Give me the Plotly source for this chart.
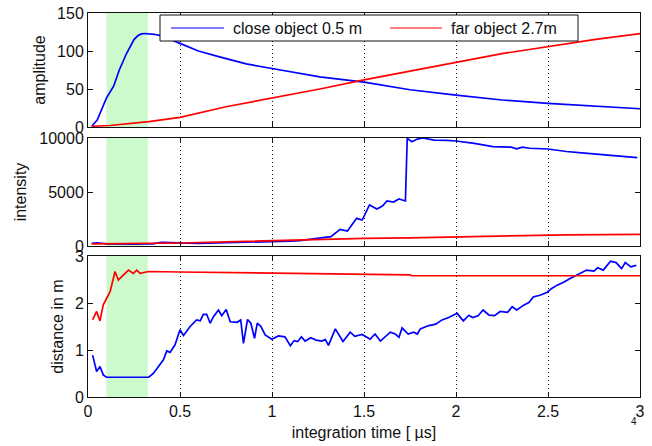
import plotly.graph_objects as go
from plotly.subplots import make_subplots

# ---------------- data ----------------
amp_t_close = [0.02, 0.05, 0.1, 0.14, 0.17, 0.21, 0.25, 0.27, 0.29, 0.31, 0.36, 0.4, 0.5, 0.6, 0.72, 0.86, 1.0, 1.12, 1.26, 1.5, 1.75, 2.0, 2.25, 2.5, 2.75, 3.0]
amp_close = [1, 9, 38, 54, 75, 97, 115, 120, 122.5, 123, 122, 120, 110, 100, 92, 83, 77, 72, 66, 59, 49, 42, 35.5, 31, 27.5, 24]

amp_t_far = [0.02, 0.12, 0.33, 0.5, 0.75, 1.0, 1.26, 1.5, 1.75, 2.0, 2.25, 2.5, 2.75, 3.0]
amp_far = [1, 2, 7, 12.7, 26.7, 37.7, 50, 62, 73, 85, 96.5, 106, 115, 123]

int_t_close = [0.02, 0.05, 0.1, 0.15, 0.2, 0.25, 0.3, 0.35, 0.4, 0.45, 0.5, 0.55, 0.6, 0.7, 0.8, 0.9, 0.95, 1.0, 1.05, 1.1, 1.15, 1.2, 1.26, 1.32, 1.37, 1.41, 1.46, 1.49, 1.53, 1.57, 1.6, 1.625, 1.66, 1.69, 1.725, 1.735, 1.76, 1.79, 1.82, 1.85, 1.88, 1.95, 2.0, 2.1, 2.2, 2.3, 2.33, 2.36, 2.4, 2.5, 2.6, 2.7, 2.8, 2.9, 2.985]
int_close = [250, 300, 200, 180, 170, 160, 190, 200, 330, 300, 280, 250, 250, 280, 320, 380, 350, 420, 380, 450, 500, 620, 710, 860, 1540, 1390, 2560, 2400, 3800, 3430, 3700, 4170, 4070, 4350, 4170, 9970, 9660, 9900, 10000, 9900, 9800, 9780, 9720, 9500, 9200, 9150, 9000, 9150, 9050, 8980, 8750, 8600, 8430, 8300, 8180]

int_t_far = [0.02, 0.3, 0.5, 0.8, 1.0, 1.26, 1.5, 1.75, 2.0, 2.1, 2.5, 2.6, 3.0]
int_far = [200, 210, 280, 400, 500, 620, 700, 760, 850, 880, 960, 1030, 1080]

dist_t_close = [0.025, 0.047, 0.065, 0.083, 0.1, 0.2, 0.33, 0.355, 0.383, 0.41, 0.428, 0.446, 0.473, 0.5, 0.519, 0.555, 0.59, 0.61, 0.627, 0.645, 0.664, 0.682, 0.709, 0.727, 0.751, 0.773, 0.81, 0.83, 0.845, 0.867, 0.885, 0.905, 0.92, 0.94, 0.963, 0.999, 1.035, 1.07, 1.1, 1.12, 1.14, 1.16, 1.18, 1.21, 1.24, 1.27, 1.29, 1.307, 1.344, 1.386, 1.425, 1.45, 1.489, 1.534, 1.56, 1.589, 1.643, 1.67, 1.69, 1.707, 1.74, 1.77, 1.79, 1.806, 1.852, 1.89, 1.924, 1.96, 2.006, 2.04, 2.07, 2.09, 2.12, 2.147, 2.18, 2.21, 2.24, 2.28, 2.305, 2.33, 2.37, 2.396, 2.42, 2.46, 2.496, 2.52, 2.55, 2.59, 2.62, 2.66, 2.68, 2.71, 2.75, 2.77, 2.8, 2.84, 2.87, 2.9, 2.92, 2.95, 2.98]
dist_close = [0.89, 0.54, 0.65, 0.47, 0.42, 0.42, 0.42, 0.5, 0.65, 0.79, 0.98, 0.95, 1.11, 1.43, 1.31, 1.5, 1.64, 1.62, 1.76, 1.76, 1.57, 1.71, 1.85, 1.73, 1.86, 1.6, 1.59, 1.64, 1.14, 1.65, 1.57, 1.25, 1.57, 1.5, 1.32, 1.23, 1.3, 1.28, 1.09, 1.2, 1.18, 1.28, 1.19, 1.26, 1.21, 1.19, 1.22, 1.1, 1.45, 1.18, 1.38, 1.29, 1.33, 1.23, 1.34, 1.19, 1.38, 1.34, 1.27, 1.47, 1.34, 1.38, 1.34, 1.45, 1.52, 1.55, 1.64, 1.69, 1.78, 1.62, 1.74, 1.69, 1.73, 1.85, 1.74, 1.73, 1.82, 1.8, 1.92, 1.85, 1.96, 2.01, 2.13, 2.17, 2.23, 2.31, 2.38, 2.45, 2.52, 2.6, 2.63, 2.7, 2.68, 2.75, 2.7, 2.89, 2.86, 2.73, 2.86, 2.77, 2.8]

dist_t_far = [0.025, 0.047, 0.065, 0.083, 0.12, 0.147, 0.165, 0.22, 0.246, 0.265, 0.283, 0.33, 0.5, 1.0, 1.4, 1.75, 1.76, 3.0]
dist_far = [1.64, 1.82, 1.62, 1.96, 2.24, 2.67, 2.49, 2.70, 2.63, 2.70, 2.63, 2.67, 2.66, 2.63, 2.61, 2.60, 2.58, 2.58]

series_names = ["close object 0.5 m", "far object 2.7m"]
x_ticks = [0, 0.5, 1, 1.5, 2, 2.5, 3]
x_tick_text = ["0", "0.5", "1", "1.5", "2", "2.5", "3"]
y_ticks = [[0, 50, 100, 150], [0, 5000, 10000], [0, 1, 2, 3]]
y_tick_text = [["0", "50", "100", "150"], ["0", "5000", "10000"], ["0", "1", "2", "3"]]
y_titles = ["amplitude", "intensity", "distance in m"]
highlight = [0.1, 0.325]

BLUE = "#0000ff"
RED = "#ff0000"
INK = "#111111"
FONT = "Liberation Sans, Arial, sans-serif"

# plot area in page pixels: x 88..640, y 13..397 (page body margin removed below)
W, H = 652, 446
ML, MR, MT, MB = 88, 12, 13, 49
PW, PH = W - ML - MR, H - MT - MB


def px(x):
    return (x - ML) / PW


def py(y):
    return (H - MB - y) / PH


fig = make_subplots(rows=3, cols=1, shared_xaxes=False, vertical_spacing=0.03)

LW = 1.7
fig.add_trace(go.Scatter(x=amp_t_close, y=amp_close, mode="lines", name=series_names[0],
                         line=dict(color=BLUE, width=LW)), row=1, col=1)
fig.add_trace(go.Scatter(x=amp_t_far, y=amp_far, mode="lines", name=series_names[1],
                         line=dict(color=RED, width=LW)), row=1, col=1)
fig.add_trace(go.Scatter(x=int_t_close, y=int_close, mode="lines", name=series_names[0],
                         line=dict(color=BLUE, width=LW)), row=2, col=1)
fig.add_trace(go.Scatter(x=int_t_far, y=int_far, mode="lines", name=series_names[1],
                         line=dict(color=RED, width=LW)), row=2, col=1)
fig.add_trace(go.Scatter(x=dist_t_close, y=dist_close, mode="lines", name=series_names[0],
                         line=dict(color=BLUE, width=LW)), row=3, col=1)
fig.add_trace(go.Scatter(x=dist_t_far, y=dist_far, mode="lines", name=series_names[1],
                         line=dict(color=RED, width=LW)), row=3, col=1)

# green highlighted interval in each panel
for i in range(1, 4):
    yref = "y domain" if i == 1 else f"y{i} domain"
    xref = "x" if i == 1 else f"x{i}"
    fig.add_shape(type="rect", xref=xref, yref=yref, x0=highlight[0], x1=highlight[1],
                  y0=0, y1=1, fillcolor="#ccfacc", line=dict(width=0), layer="below")

domains = [[py(127), 1.0], [py(246), py(138)], [0.0, py(256)]]
yranges = [[0, 150], [0, 10000], [0, 3]]
standoffs = [7, 8, 7]

axis_common = dict(showline=True, linecolor=INK, linewidth=1, mirror="ticks",
                   ticks="inside", ticklen=5, tickcolor=INK, zeroline=False, automargin=False,
                   ticklabeloverflow="allow",
                   tickfont=dict(family=FONT, size=16, color=INK))

for i in range(3):
    xa = "xaxis" if i == 0 else f"xaxis{i+1}"
    ya = "yaxis" if i == 0 else f"yaxis{i+1}"
    fig.layout[xa].update(range=[0, 3], tickvals=x_ticks, ticktext=x_tick_text,
                          showticklabels=(i == 2), showgrid=True, gridcolor=INK,
                          griddash="1px,3px", gridwidth=1, **axis_common)
    fig.layout[ya].update(domain=domains[i], range=yranges[i], tickvals=y_ticks[i],
                          ticktext=y_tick_text[i], showgrid=False,
                          title=dict(text=y_titles[i], font=dict(family=FONT, size=16, color=INK),
                                     standoff=standoffs[i]),
                          **axis_common)

fig.layout.xaxis3.title = dict(text="integration time [ µs]", standoff=7,
                               font=dict(family=FONT, size=16, color=INK))

# small page number under the last tick label
fig.add_annotation(text="4", xref="paper", yref="paper", x=px(639), y=py(429),
                   showarrow=False, font=dict(family=FONT, size=10, color=INK))

# legend box drawn in the upper panel (matlab-style)
fig.add_shape(type="rect", xref="paper", yref="paper", x0=px(160), x1=px(578),
              y0=py(41), y1=py(15), fillcolor="white", line=dict(color=INK, width=1), layer="above")
for (x0, x1, c) in [(171, 224, BLUE), (390, 442, RED)]:
    fig.add_shape(type="line", xref="paper", yref="paper", x0=px(x0), x1=px(x1),
                  y0=py(28), y1=py(28), line=dict(color=c, width=1), layer="above")
for (x, name) in [(231, series_names[0]), (449, series_names[1])]:
    fig.add_annotation(text=name, xref="paper", yref="paper", x=px(x), y=py(28),
                       xanchor="left", yanchor="middle", showarrow=False,
                       font=dict(family=FONT, size=16, color=INK))

fig.update_layout(
    width=W, height=H,
    margin=dict(l=ML, r=MR, t=MT, b=MB),
    paper_bgcolor="white", plot_bgcolor="white",
    font=dict(family=FONT, size=16, color=INK),
    showlegend=False,
)

fig.write_html("out.html",
               config={"displayModeBar": False},
               post_script="document.body.style.margin='0px';document.body.style.overflow='hidden';")
